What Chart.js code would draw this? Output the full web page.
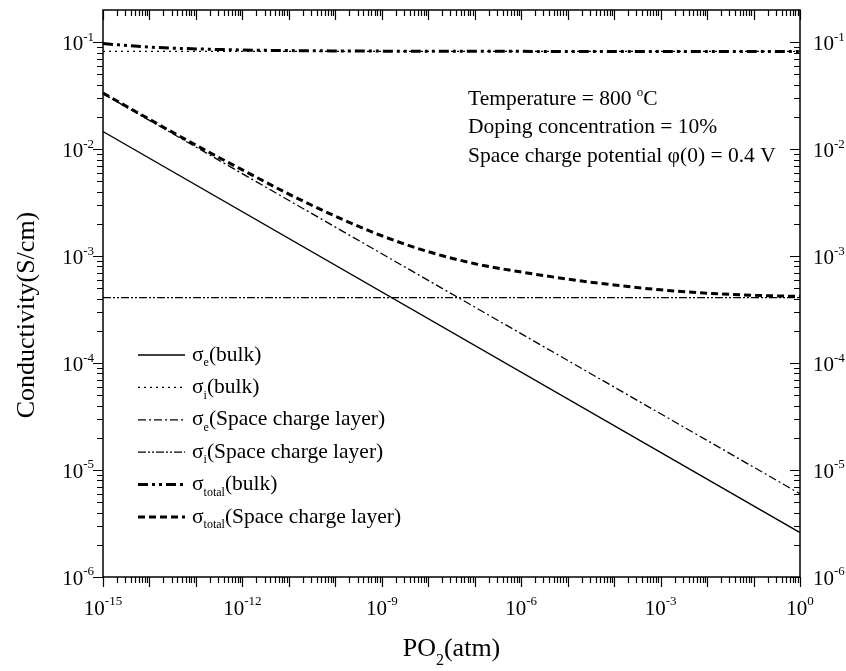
<!DOCTYPE html>
<html>
<head>
<meta charset="utf-8">
<script src="https://cdn.jsdelivr.net/npm/chart.js@4.4.1/dist/chart.umd.min.js"></script>
<style>
  body { margin: 0; background: #fff; }
</style>
</head>
<body>
<canvas id="myChart" width="846" height="671"></canvas>
<script>
// oxygen partial pressure (atm), one point per decade
const po2 = [1e-15, 1e-14, 1e-13, 1e-12, 1e-11, 1e-10, 1e-9, 1e-8,
             1e-7, 1e-6, 1e-5, 1e-4, 1e-3, 1e-2, 1e-1, 1];
const sigmaTotalBulk = [0.097, 0.090, 0.0866, 0.0846, 0.0835, 0.0829, 0.0825, 0.0823,
                        0.0822, 0.0821, 0.082, 0.082, 0.082, 0.082, 0.082, 0.082];
const sigmaTotalSC = [0.0335, 0.019, 0.0109, 0.0064, 0.0038, 0.00236, 0.00155, 0.00110,
                      0.00085, 0.00071, 0.00061, 0.000537, 0.000484, 0.00045, 0.00043, 0.00042];

// the straight lines only need their two ends
const po2Ends = [1e-15, 1];
const sigmaEBulk = [1.46e-2, 2.6e-6];
const sigmaIBulk = [0.082, 0.082];
const sigmaESC = [3.3e-2, 6.0e-6];
const sigmaISC = [4.1e-4, 4.1e-4];

// axis decades and labelled powers of ten
const xDecades = [-15, -14, -13, -12, -11, -10, -9, -8, -7, -6, -5, -4, -3, -2, -1, 0];
const xLabelExps = [-15, -12, -9, -6, -3, 0];
const yDecades = [-6, -5, -4, -3, -2, -1];
const yLabelExps = [-6, -5, -4, -3, -2, -1];

// legend: sigma subscript + description
const legendSubs = ['e', 'i', 'e', 'i', 'total', 'total'];
const legendTexts = ['(bulk)', '(bulk)', '(Space charge layer)', '(Space charge layer)',
                     '(bulk)', '(Space charge layer)'];

const SERIF = '"Liberation Serif", "Times New Roman", serif';

function pts(xs, ys) {
  return xs.map((x, i) => ({ x: x, y: ys[i] }));
}

function drawPow(ctx, exp, x, y, align) {
  ctx.font = '21px ' + SERIF;
  const wb = ctx.measureText('10').width;
  ctx.font = '13px ' + SERIF;
  const es = String(exp);
  const we = ctx.measureText(es).width;
  let sx = x;
  if (align === 'center') sx = x - (wb + we) / 2;
  else if (align === 'right') sx = x - wb - we;
  ctx.textAlign = 'left';
  ctx.textBaseline = 'middle';
  ctx.font = '21px ' + SERIF;
  ctx.fillText('10', sx, y);
  ctx.font = '13px ' + SERIF;
  ctx.fillText(es, sx + wb, y - 7);
}

const axesPlugin = {
  id: 'axesPlugin',
  afterDraw(chart) {
    const ctx = chart.ctx;
    const a = chart.chartArea;
    const xs = chart.scales.x;
    const ys = chart.scales.y;
    ctx.save();
    ctx.fillStyle = '#000';
    ctx.strokeStyle = '#000';

    // tick marks
    ctx.lineWidth = 1.2;
    ctx.beginPath();
    xDecades.forEach(d => {
      for (let m = 1; m <= 9; m++) {
        const v = m * Math.pow(10, d);
        if (v > xs.max * 1.0001) break;
        const px = Math.round(xs.getPixelForValue(v)) + 0.5;
        const len = m === 1 ? 10 : 6;
        ctx.moveTo(px, a.bottom); ctx.lineTo(px, a.bottom + len);
        ctx.moveTo(px, a.top); ctx.lineTo(px, a.top + len);
      }
    });
    yDecades.forEach(d => {
      for (let m = 1; m <= 9; m++) {
        const v = m * Math.pow(10, d);
        if (v > ys.max * 0.9999) break;
        const py = Math.round(ys.getPixelForValue(v)) + 0.5;
        const len = m === 1 ? 10 : 6;
        ctx.moveTo(a.left, py); ctx.lineTo(a.left - len, py);
        ctx.moveTo(a.right, py); ctx.lineTo(a.right - len, py);
      }
    });
    ctx.stroke();

    // frame
    ctx.lineWidth = 1.5;
    ctx.strokeRect(a.left, a.top, a.right - a.left, a.bottom - a.top);

    // tick labels
    xLabelExps.forEach(e => {
      drawPow(ctx, e, xs.getPixelForValue(Math.pow(10, e)), a.bottom + 32, 'center');
    });
    yLabelExps.forEach(e => {
      const py = ys.getPixelForValue(Math.pow(10, e));
      drawPow(ctx, e, a.left - 9, py + 2, 'right');
      drawPow(ctx, e, a.right + 13, py + 2, 'left');
    });

    // axis titles
    ctx.textBaseline = 'alphabetic';
    ctx.font = '26px ' + SERIF;
    const t1 = 'PO', t2 = '(atm)';
    const w1 = ctx.measureText(t1).width, w2 = ctx.measureText(t2).width;
    ctx.font = '16px ' + SERIF;
    const ws = ctx.measureText('2').width;
    let tx = (a.left + a.right) / 2 - (w1 + ws + w2) / 2;
    ctx.font = '26px ' + SERIF;
    ctx.fillText(t1, tx, 656);
    ctx.font = '16px ' + SERIF;
    ctx.fillText('2', tx + w1, 665);
    ctx.font = '26px ' + SERIF;
    ctx.fillText(t2, tx + w1 + ws, 656);

    ctx.save();
    ctx.translate(34, 315);
    ctx.rotate(-Math.PI / 2);
    ctx.textAlign = 'center';
    ctx.fillText('Conductivity(S/cm)', 0, 0);
    ctx.restore();

    // conditions
    ctx.textAlign = 'left';
    ctx.font = '21.5px ' + SERIF;
    const t = 'Temperature = 800 ';
    ctx.fillText(t, 468, 104.5);
    let wt = ctx.measureText(t).width;
    ctx.font = '13px ' + SERIF;
    ctx.fillText('o', 468 + wt, 96);
    wt += ctx.measureText('o').width;
    ctx.font = '21.5px ' + SERIF;
    ctx.fillText('C', 468 + wt, 104.5);
    ctx.fillText('Doping concentration = 10%', 468, 133);
    ctx.fillText('Space charge potential \u03c6(0) = 0.4 V', 468, 161.5);

    // legend
    chart.data.datasets.forEach((ds, i) => {
      const y = 355 + i * 32.4;
      ctx.save();
      ctx.lineWidth = ds.borderWidth;
      ctx.setLineDash(ds.borderDash || []);
      ctx.beginPath();
      ctx.moveTo(138, y);
      ctx.lineTo(185, y);
      ctx.stroke();
      ctx.restore();
      ctx.textBaseline = 'middle';
      ctx.font = '21.5px ' + SERIF;
      ctx.fillText('\u03c3', 192, y);
      let x = 192 + ctx.measureText('\u03c3').width;
      ctx.font = '12px ' + SERIF;
      ctx.fillText(legendSubs[i], x, y + 8);
      x += ctx.measureText(legendSubs[i]).width;
      ctx.font = '21.5px ' + SERIF;
      ctx.fillText(legendTexts[i], x, y);
    });
    ctx.restore();
  }
};

new Chart('myChart', {
  type: 'line',
  data: {
    datasets: [{
      data: pts(po2Ends, sigmaEBulk),
      borderColor: '#000', borderWidth: 1.3
    }, {
      data: pts(po2Ends, sigmaIBulk),
      borderColor: '#000', borderWidth: 1.3, borderDash: [2, 4]
    }, {
      data: pts(po2Ends, sigmaESC),
      borderColor: '#000', borderWidth: 1.3, borderDash: [8, 3, 2, 3]
    }, {
      data: pts(po2Ends, sigmaISC),
      borderColor: '#000', borderWidth: 1.3, borderDash: [8, 2, 2, 2, 2, 2]
    }, {
      data: pts(po2, sigmaTotalBulk),
      borderColor: '#000', borderWidth: 3, borderDash: [10, 4, 3, 4, 3, 4],
      cubicInterpolationMode: 'monotone'
    }, {
      data: pts(po2, sigmaTotalSC),
      borderColor: '#000', borderWidth: 3, borderDash: [7, 4],
      cubicInterpolationMode: 'monotone'
    }]
  },
  options: {
    responsive: false,
    animation: false,
    devicePixelRatio: 1,
    layout: { padding: { left: 103, top: 10, right: 46, bottom: 94 } },
    elements: { point: { radius: 0 }, line: { tension: 0 } },
    scales: {
      x: { type: 'logarithmic', min: 1e-15, max: 1, display: false },
      y: { type: 'logarithmic', min: 1e-6, max: 0.2, display: false }
    },
    plugins: { legend: { display: false }, tooltip: { enabled: false } }
  },
  plugins: [axesPlugin]
});
</script>
</body>
</html>
